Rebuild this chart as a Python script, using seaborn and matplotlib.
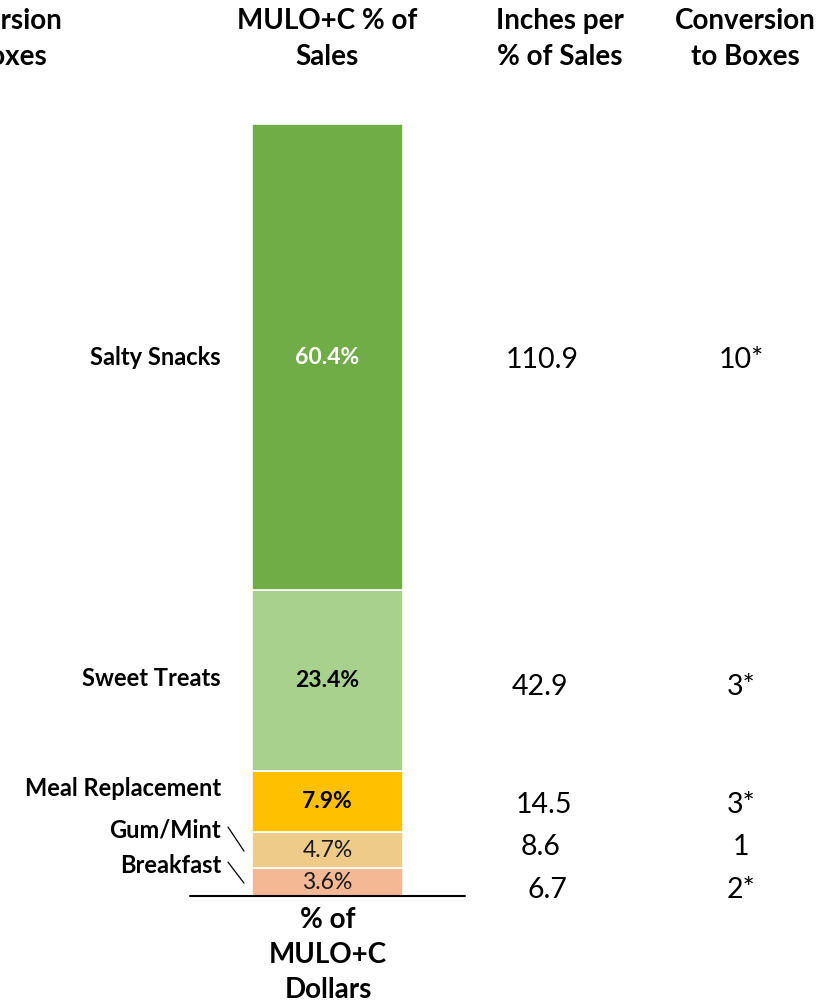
import numpy as np
import pandas as pd
import seaborn as sns
import matplotlib
matplotlib.use("Agg")
import matplotlib.pyplot as plt
import matplotlib.transforms as mtransforms

# Category shares of MULO+C dollars (bottom to top of the stack)
categories = ["Breakfast", "Gum/Mint", "Meal Replacement", "Sweet Treats", "Salty Snacks"]
share_pct = [3.6, 4.7, 7.9, 23.4, 60.4]
inches_per_pct = ["6.7", "8.6", "14.5", "42.9", "110.9"]
box_conversion = ["2*", "1", "3*", "3*", "10*"]
colors = ["#F4B994", "#EECB89", "#FFC000", "#A9D18E", "#70AD47"]
label_colors = ["#1a1a1a", "#1a1a1a", "#000000", "#000000", "#FFFFFF"]
label_weights = ["normal", "normal", "bold", "bold", "bold"]

headers = ["Conversion\nto Boxes", "MULO+C % of\nSales", "Inches per\n% of Sales", "Conversion\nto Boxes"]
header_x = [-8, 327, 560, 745]  # pixel centres
xlabel = "% of\nMULO+C\nDollars"

sns.set_theme(style="white")
plt.rcParams["font.family"] = ["Lato", "DejaVu Sans"]

W, H = 828, 1005
fig = plt.figure(figsize=(W / 100, H / 100), dpi=100)
ax = fig.add_axes([0, 0, 1, 1])

# pixel geometry of the stacked column
bar_left, bar_right = 252, 403
bar_top, bar_bottom = 124, 896
ppu = (bar_bottom - bar_top) / 100.0   # pixels per percentage point
bar_w = bar_right - bar_left
centre = (bar_left + bar_right) / 2

df = pd.DataFrame({"cat": categories, "share": share_pct})
df["bottom"] = df["share"].cumsum() - df["share"]
df["mid"] = df["bottom"] + df["share"] / 2
df["col"] = "MULO+C"

for i, row in df.iterrows():
    sns.barplot(x=[row["col"]], y=[row["share"]], bottom=row["bottom"],
                color=colors[i], saturation=1, width=1.0, errorbar=None,
                edgecolor="white", linewidth=1.2, ax=ax)

ax.set_xlim(-centre / bar_w, (W - centre) / bar_w)
ax.set_ylim(-(H - bar_bottom) / ppu, 100 + bar_top / ppu)
ax.axis("off")

xt = mtransforms.blended_transform_factory(fig.transFigure, ax.transData)

def px(x):
    return x / W

def dy(p):
    # pixel offset (upwards positive) -> data units
    return p / ppu

# values inside the column
for i, row in df.iterrows():
    ax.text(0, row["mid"], f"{row['share']:.1f}%", ha="center", va="center",
            fontsize=16.5, color=label_colors[i], fontweight=label_weights[i])

# category names on the left (pixel lift relative to segment centre)
label_lift = [17, 20, 13, 2, 0]
for i, row in df.iterrows():
    ax.text(px(221), row["mid"] + dy(label_lift[i]), row["cat"], transform=xt,
            ha="right", va="center", fontsize=17, fontweight="bold", color="#000000")

# leader lines for the two thin segments
for i in (0, 1):
    y0 = df.loc[i, "mid"] + dy(label_lift[i] + 3)
    y1 = df.loc[i, "mid"] + dy(-1)
    ax.plot([px(228), px(244)], [y0, y1], transform=xt,
            color="#000000", linewidth=0.9)

# right-hand columns
num_lift = [-8, 3, -4, -6, -3]
inch_x = [547, 541, 544, 540, 542]
for i, row in df.iterrows():
    y = row["mid"] + dy(num_lift[i])
    ax.text(px(inch_x[i]), y, inches_per_pct[i], transform=xt, ha="center", va="center",
            fontsize=20.5, color="#000000")
    ax.text(px(741), y, box_conversion[i], transform=xt, ha="center", va="center",
            fontsize=20.5, color="#000000")

# column headers
for t, x in zip(headers, header_x):
    fig.text(px(x), 1 - 39 / H, t, ha="center", va="center", fontsize=20,
             fontweight="bold", linespacing=1.45, color="#000000")

# base line and axis caption
ax.plot([px(190), px(465)], [0, 0], transform=xt, color="#000000", linewidth=1.5)
fig.text(px(328), 1 - 955 / H, xlabel, ha="center", va="center", fontsize=20,
         fontweight="bold", linespacing=1.42, color="#000000")

fig.savefig("out.png", dpi=100)
